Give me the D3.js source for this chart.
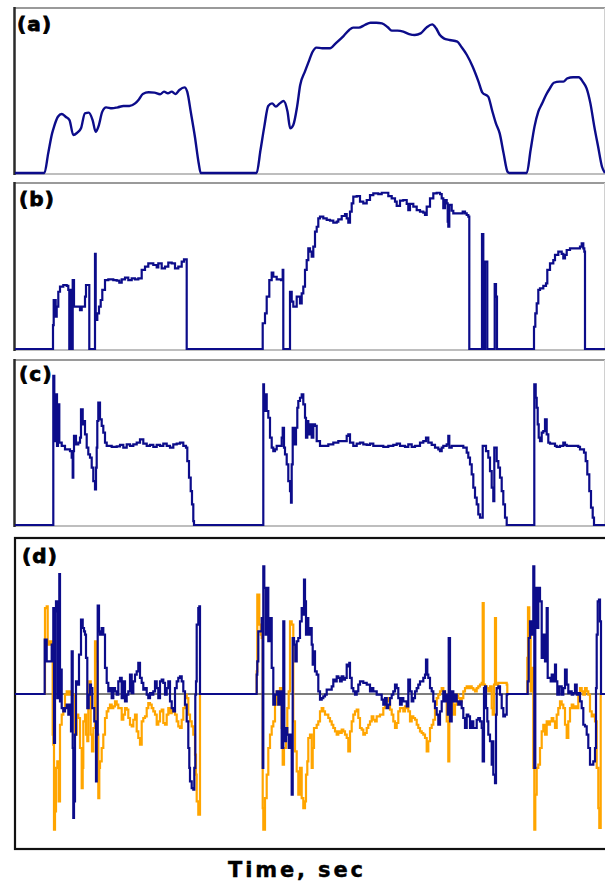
<!DOCTYPE html>
<html><head><meta charset="utf-8">
<script src="https://cdn.jsdelivr.net/npm/d3@7"></script>
<style>body{margin:0;background:#fff}svg{display:block}</style>
</head><body>
<svg id="chart" width="605" height="885"></svg>
<script>
// ---- DATA (time in arbitrary sample units, values normalised) ----
const panelLabels = ["(a)", "(b)", "(c)", "(d)"];
const xAxisLabel = "Time, sec";
const timeDomain = [0, 590];

// (a) smooth signal, 0..100
const seriesA = [[0,0],[29.4,0],[33.2,11.9],[37.1,24],[39,28],[42.9,34.1],[46.7,35.8],[50.6,34.1],[54.5,32.1],[58.3,23],[62.2,24.4],[66,27.1],[69.9,36.2],[73.8,36.6],[77.6,32.1],[80.7,25],[83.4,28.1],[87.3,37.2],[91.1,39.8],[96.9,39.2],[102.7,39.8],[108.5,40.6],[114.3,40.6],[120.1,42.2],[123.9,44.6],[127.8,47.9],[133.6,48.9],[139.4,48.7],[145.1,47.7],[149,49.3],[152.9,48.3],[156.7,49.3],[160.6,47.9],[164.4,50.3],[169.5,51.9],[172.2,49.3],[176,36.2],[179.9,22],[183.7,5.9],[185.7,0],[241.6,0],[245.5,13.9],[249.3,28.1],[253.2,40.6],[257.1,42.2],[260.9,40.2],[264.8,42.2],[268.6,43.6],[272.5,37.2],[275.2,27.1],[278.3,29.1],[282.1,40.2],[285.2,53.3],[289.9,61.4],[293.7,67.5],[297.6,73.5],[301.4,76],[307.2,75.6],[315,75.6],[320.7,78.6],[328.5,83],[334.2,86.7],[338.1,88.1],[343.9,88.1],[349.7,89.7],[355.5,91.1],[361.3,91.1],[367,90.7],[372.8,88.3],[376.7,86.3],[382.5,86.3],[388.3,85.7],[394.1,84.2],[399.8,83.6],[405.6,84.6],[411.4,88.1],[417.2,90.1],[421.1,87.7],[424.9,83.6],[428.8,81.6],[434.6,80.6],[442.3,79.6],[446.2,76.6],[451.9,71.5],[457.7,64.4],[463.5,55.4],[467.4,48.7],[473.2,46.3],[477,38.2],[480.9,30.1],[484.7,24],[488.6,11.9],[492.5,0.8],[494.4,0],[511.8,0],[515.6,13.9],[519.5,28.1],[523.3,37.2],[527.2,42.2],[531,47.3],[534.9,51.3],[538.8,54.7],[544.6,55.4],[548.4,55.4],[552.3,57.4],[558.1,58],[563.8,58],[567.7,55.4],[571.6,51.3],[575.4,42.2],[579.3,28.1],[583.1,16],[587,3.8],[590,0]];

// (b) stepped signal with dropouts, 0..100
const seriesB = [[0,0],[37.7,0],[38,14.5],[38.7,29.7],[39.3,21.6],[40,29.7],[40.7,19.6],[41.7,25.7],[43.3,34.7],[45,37.8],[48.3,38.8],[51.7,38.2],[53.3,35.8],[54.3,0],[55,0],[55.7,35.8],[56.7,0],[57.7,41.8],[59,25.7],[62.3,25.7],[65,23.6],[66.7,25.7],[68.3,25.7],[70,31.7],[71,38.8],[73.3,38.8],[74.3,0],[79.7,0],[80,57.6],[80.7,17.6],[82.3,21.6],[84,25.7],[85.7,29.7],[87.3,35.8],[90,41.8],[93.3,42.2],[98.3,41.8],[101.7,41.4],[104.3,40.2],[106.7,42.2],[110,43.2],[113.3,41.8],[116.7,42.8],[120,42.2],[123.3,42.8],[126.7,47.9],[130,49.9],[133.3,51.9],[138.3,50.9],[141.7,49.5],[143.3,51.9],[146.7,48.9],[150,49.9],[153.3,52.3],[156.7,51.9],[160,48.9],[163.3,49.9],[166.7,52.9],[169,54.3],[171,54.3],[171.7,0],[247.3,0],[247.7,15.6],[250,21.6],[251.7,31.7],[254.3,41.8],[256.7,46.3],[258.3,43.8],[261.7,42.2],[266,41.8],[267.7,47.9],[268.3,0],[274.7,0],[275,34.7],[276.7,28.7],[278.3,25.7],[281.7,31.7],[285,27.7],[286.7,33.7],[288.3,37.8],[290,47.9],[291.7,53.9],[293.3,61],[295,59],[296.7,56],[298.3,62],[300,71.1],[301.7,74.1],[303.3,79.2],[305,80.2],[308.3,79.2],[311.7,78.2],[315,77.8],[318.3,76.6],[321.7,77.2],[323.3,78.6],[326.7,80.6],[330,81.8],[331.7,79.2],[333.3,76.6],[335,83.2],[336.7,88.3],[338.3,92.3],[341.7,92.7],[345,89.3],[348.3,88.3],[351.7,90.3],[355,93.3],[358.3,94.3],[363.3,93.9],[366.7,94.7],[370,94.7],[373.3,92.7],[376.7,91.3],[380,89.3],[381.7,86.7],[385,89.9],[388.3,90.3],[391.7,87.9],[393.3,84.2],[395,87.9],[398.3,86.3],[401.7,84.2],[405,83.2],[408.3,82.6],[410,81.2],[411.7,86.3],[415,91.3],[418.3,94.3],[421.7,94.7],[425,93.9],[426.7,91.3],[428.3,85.3],[430,90.3],[431.7,88.3],[432.7,77.2],[433.3,74.1],[434.3,87.3],[436.7,83.8],[438.3,82.2],[445,82.2],[447.7,83.2],[450,82.2],[451.7,81.2],[453.3,80.2],[454.3,0],[466.7,0],[467,69.7],[468,69.7],[468.3,0],[469.7,0],[470,52.9],[471.7,52.9],[472.3,0],[479.3,0],[479.7,39.4],[481,31.7],[482,0],[518.3,0],[519,13.5],[520.3,21.6],[521.7,27.7],[523.3,35.8],[525,36.8],[528.3,38.2],[531,39.8],[532.3,47.9],[535,51.9],[538.3,53.9],[540,57],[543.3,59],[546.7,57.6],[548.3,54.9],[550,57],[551.7,60],[555,61],[561.7,61],[565,62],[566.7,64],[568.3,61],[569.3,59],[570,0],[590,0]];

// (c) 0..100
const seriesC = [[0,0],[37.7,0],[38.3,90.9],[39.3,79.7],[40.3,51.2],[41,79.7],[42,48.2],[43,73.6],[44.3,50.2],[46.7,48.2],[50,46.1],[53.3,46.1],[55,45.1],[56.7,41.1],[57.7,28.9],[58.3,45.1],[59,54.3],[61,49.2],[63.3,50.2],[65,53.3],[66,70.5],[67.7,61.4],[69,63.4],[70,55.3],[71.7,47.2],[73.3,43.1],[75,41.1],[76.7,35],[78.3,26.8],[80,21.7],[81,35],[81.7,47.2],[82.3,63.4],[83.3,74.6],[85,64.4],[86.7,60.4],[88.3,56.3],[90,50.2],[91.7,48.2],[96.7,47.6],[101.7,48],[105,48.8],[108.3,47.2],[111.7,49.2],[115,48.2],[118.3,49.2],[121.7,50.2],[125,52.2],[128.3,49.6],[131.7,48.2],[135,48.8],[138.3,47.6],[141.7,48.8],[145,48.2],[148.3,49.6],[151.7,48.2],[155,47.2],[158.3,49.2],[161.7,49.6],[165,50.2],[168.3,48.2],[171,47.2],[172.3,39],[174,28.9],[175.7,20.7],[177,12.6],[178.3,2.4],[179,0],[247.7,0],[248.3,85.8],[249,79.7],[250,69.5],[251,79.7],[251.7,69.5],[253.3,65.4],[255,53.3],[256.7,47.2],[258.3,45.1],[260,46.1],[261.7,48.2],[265,48.2],[266.7,53.3],[267.7,59.3],[269,47.2],[270,43.1],[271.7,37],[273.3,26.8],[275,20.7],[276,13.6],[276.7,37],[277.7,59.3],[279,49.2],[281,59.3],[282.3,71.5],[283.3,75.6],[285,77.6],[286.7,79.7],[288.3,73.6],[290,65.4],[291,53.3],[292.3,63.4],[293.3,55.3],[295,61.4],[296.7,53.3],[298.3,61.4],[300,60.4],[301.7,51.2],[305,48.2],[308.3,48.2],[313.3,49.2],[318.3,50.2],[323.3,51.2],[328.3,51.2],[331.7,54.3],[333.3,55.3],[335,50.2],[338.3,48.2],[341.7,49.6],[345,50.2],[348.3,49.2],[351.7,48.8],[355,49.6],[358.3,48.2],[363.3,48.2],[368.3,47.6],[373.3,48.2],[378.3,48.8],[381.7,49.6],[385,48.2],[390,47.6],[393.3,49.2],[396.7,47.6],[400,48.2],[405,50.2],[408.3,51.2],[411,53.3],[413.3,50.2],[416.7,48.8],[420,47.2],[423.3,46.1],[425,45.1],[426.7,47.2],[428.3,48.2],[431.7,49.2],[433.3,54.3],[434.3,47.2],[436.7,48.2],[440,48.2],[445,48.2],[448.3,47.2],[451.7,44.1],[453.3,41.1],[455,37],[456.7,30.9],[458.3,22.8],[460,16.7],[461.7,12.6],[463.3,6.5],[465,4.5],[466.7,4.5],[467.7,48.2],[469,48.2],[471,45.1],[473.3,41.1],[475,32.9],[476.7,22.8],[478.3,14.6],[479.3,47.2],[480.7,47.2],[481.7,39],[483.3,35],[485,28.9],[486.7,20.7],[488.3,12.6],[490,4.5],[491.7,0],[519,0],[519.3,85.8],[520.7,77.6],[521.7,71.5],[522.7,61.4],[523.7,53.3],[525,51.2],[526.7,56.3],[528.3,57.3],[530,64.4],[531.7,55.3],[533.3,50.2],[535,49.6],[538.3,49.6],[540,48.2],[541.7,47.6],[545,48.2],[548.3,50.2],[550,48.8],[551.7,48.2],[555,48.2],[560,48.2],[563.3,47.6],[565,46.1],[567.7,46.1],[569,44.1],[570.7,39],[572.3,30.9],[574.3,20.7],[576,10.6],[577.7,4.5],[579,0],[590,0]];

// (d) blue series, -100..100
const seriesDBlue = [[0,0],[29.3,0],[29.7,34.8],[31,34.8],[31.7,20.9],[35,20.9],[36.7,31.6],[37.7,20.9],[38.3,55.1],[39,-31.4],[40,53],[41,59.4],[42.3,-2.6],[43.3,38],[44.3,76.9],[45,-4.7],[46,15.6],[46.7,-9],[48.3,-11.1],[50,-9],[51.7,-6.8],[53.3,-13.2],[55,-6.8],[56,-23.9],[56.7,27.4],[57.7,-34.6],[58.3,-79.5],[59,-68.8],[60,-26.1],[61,8.1],[62.3,6],[64,25.2],[66,47.7],[67.7,42.3],[69,40.2],[70,38],[71,23.1],[72.3,-9],[73.7,-0.4],[75,6],[76,3.8],[77.3,-9],[79.3,-17.5],[81,-56],[81.7,-26.1],[82.7,56.6],[84,40.2],[85,38],[86.7,42.3],[88.3,38],[90,16.7],[91.7,7.1],[93.3,1.7],[95,3.8],[96.7,-2.6],[98.3,3.8],[100,1.7],[101.7,-0.4],[103.3,8.1],[105,10.3],[106.7,-2.6],[108.3,8.1],[110,-4.7],[111.7,-0.4],[113.3,1.7],[115,12.4],[116.7,0.6],[118.3,8.1],[120,12.4],[121.7,14.5],[123.3,19.9],[125,10.3],[126.7,7.1],[128.3,2.8],[130,3.8],[131.7,-0.4],[133.3,-2.6],[135,0.6],[136.7,-0.4],[138.3,1.7],[140,8.1],[141.7,3.8],[143.3,-2.6],[145,8.1],[146.7,9.2],[148.3,7.1],[150,-0.4],[151.7,3.8],[153.3,8.1],[155,-4.7],[156.7,-9],[158.3,-11.1],[160,3.8],[161.7,8.1],[163.3,10.3],[165,11.3],[166.7,8.1],[168.3,1.7],[170,-6.8],[171.7,-17.5],[173.3,-34.6],[174.3,-47.4],[175,-56],[176.7,-60.3],[178.3,-61.3],[179.3,-47.4],[180.3,-0.4],[181,8.1],[181.7,44.5],[183.3,55.1],[184.3,56.2],[185,0],[241,0],[241.7,12.4],[242.3,20.9],[243.3,40.2],[245,40.2],[246.7,48.7],[247.7,-47.4],[248.3,81.8],[249.3,68],[250.7,38],[251.7,68],[253.3,33.8],[255,48.7],[256.7,16.7],[258.3,-6.8],[260,-0.4],[261.7,1.7],[263.3,-6.8],[265,1.7],[266.7,-34.6],[268.3,46.6],[269.3,-30.3],[271,-21.8],[272.3,-26.1],[273.7,-34.6],[275,-26.1],[276.7,-64.5],[277.7,35.9],[279,31.6],[280.3,20.9],[281.7,33.8],[283.3,35.9],[285,46.6],[286.7,55.1],[288.3,50.9],[289,73.3],[290,59.4],[291,38],[292.3,48.7],[293.3,38],[295,42.3],[296.7,31.6],[297.7,18.8],[299,27.4],[300,14.5],[301.7,12.4],[303.3,1.7],[305,-3.6],[306.7,-2.6],[308.3,-1.5],[310,-0.4],[311.7,2.8],[315,2.8],[316.7,4.9],[318.3,9.2],[320,8.1],[321.7,11.3],[323.3,10.3],[325,8.1],[326.7,11.3],[328.3,9.2],[330,10.3],[331.7,18.8],[333.3,17.7],[334.3,19.9],[335,10.3],[336.7,3.8],[338.3,1.7],[340,-0.4],[341.7,1.7],[343.3,6],[345,8.1],[348.3,7.1],[351.7,6],[355,1.7],[356.7,3.8],[358.3,1.7],[361.7,-0.4],[365,-0.4],[366.7,-3.6],[368.3,-6.8],[370,-2.6],[371.7,-9],[373.3,-6.8],[375,-2.6],[376.7,-0.4],[378.3,1.7],[380,6],[381.7,3.8],[383.3,-2.6],[385,-6.8],[386.7,-2.6],[388.3,-4.7],[391.7,-7.9],[393.3,9.2],[395,1.7],[396.7,-4.7],[398.3,-2.6],[400,1.7],[401.7,3.8],[403.3,6],[405,8.1],[408.3,10.3],[410,12.4],[411,22],[412.3,12.4],[413.3,10.3],[415,3.8],[416.7,1.7],[418.3,-4.7],[420,-9],[421.7,-13.2],[423.3,-19.7],[425,-11.1],[426.7,-4.7],[428.3,1.7],[430,-4.7],[431.7,-0.4],[432.7,-13.2],[433.7,35.9],[435,-17.5],[436.7,1.7],[438.3,-4.7],[440,-0.4],[441.7,-4.7],[443.3,-6.8],[445,-4.7],[446.7,-9],[448.3,-15.4],[450,-21.8],[451.7,-13.2],[453.3,-14.3],[455,-21.8],[456.7,-17.5],[458.3,-21.8],[461.7,-16.5],[463.3,-15.4],[465,-17.5],[466.7,-21.8],[467.7,-43.2],[469,3.8],[470,4.9],[471,-9],[472.3,-17.5],[473.3,-26.1],[475,-30.3],[476.7,-45.3],[477.7,-30.3],[478.3,-51.7],[480,-57.1],[481,-13.2],[481.7,3.8],[483.3,4.9],[485,-0.4],[486.7,-9],[488.3,-14.3],[490,-13.2],[491.7,-0.4],[492.3,0],[511.7,0],[512.7,8.1],[513.7,35.9],[515,46.6],[516.7,38],[518.3,81.8],[519.3,-47.4],[520.3,68],[521.7,42.3],[523.3,68],[525,59.4],[526.7,23.1],[528.3,38],[530,20.9],[531.7,55.1],[532.7,10.3],[535.7,8.1],[536.7,12.4],[538.3,8.1],[540,18.8],[541,8.1],[542.3,-0.4],[544.3,4.9],[546.7,-0.4],[548.3,3.8],[550,15.6],[551.7,6],[553.3,0.6],[555,1.7],[556.7,-0.4],[558.3,0.6],[560,6],[561.7,-0.4],[563.3,0.6],[565,-4.7],[566.7,-9],[568.3,-19.7],[570,-20.7],[571.7,-26.1],[573.3,-34.6],[575,-45.3],[578.3,-43.2],[580,-34.6],[581,3.8],[581.7,38],[582.7,59.4],[584,60.5],[585,46.6],[586,0],[590,0]];

// (d) orange series, -100..100
const seriesDOrange = [[0,0],[29.3,0],[30,55.1],[31.7,56.2],[32.7,31.6],[34.3,33.8],[35.7,31.6],[36.7,33.8],[37.7,-26.1],[38.3,-32.5],[39,-87],[40,-75.2],[41,-47.4],[42.3,-43.2],[43.7,-68.8],[45,-19.7],[46.7,-13.2],[48.3,-9],[50,-0.4],[51.7,1.7],[53.3,-0.4],[55,1.7],[56.7,-0.4],[60,-26.1],[61.7,-13.2],[63.3,-15.4],[65,-34.6],[66.7,-60.3],[67.7,-47.4],[68.3,-17.5],[70,-13.2],[71,-26.1],[72.3,-30.3],[73.3,-0.4],[74.3,8.1],[75.7,-26.1],[77,-36.8],[78.3,-21.8],[80,33.8],[81,20.9],[82.3,-26.1],[83.3,-66.7],[84.3,-47.4],[85,-43.2],[86.7,-34.6],[88.3,-26.1],[90,-15.4],[91.7,-11.1],[93.3,-9],[95,-6.8],[96.7,-9],[98.3,-7.9],[100,-4.7],[101.7,-6.8],[103.3,-9],[106.7,-16.5],[108.3,-13.2],[110,-9],[111.7,-10],[113.3,-15.4],[115,-19.7],[116.7,-20.7],[118.3,-16.5],[120,-13.2],[121.7,-23.9],[123.3,-28.2],[125,-32.5],[126.7,-17.5],[128.3,-15.4],[130,-14.3],[131.7,-9],[133.3,-5.8],[135,-6.8],[136.7,-9],[138.3,-11.1],[140,-13.2],[141.7,-19.7],[143.3,-17.5],[145,-11.1],[146.7,-10],[148.3,-18.6],[150,-19.7],[151.7,-13.2],[153.3,-9],[155,-12.2],[156.7,-10],[158.3,-11.1],[160,-13.2],[161.7,-17.5],[163.3,-20.7],[165,-21.8],[166.7,-16.5],[168.3,-9],[170,-0.4],[171.7,-2.6],[173.3,-13.2],[175,-17.5],[176.7,-20.7],[178.3,-26.1],[180,-38.9],[181,-51.7],[181.7,-68.8],[183.3,-77.4],[184.3,-77.4],[185,0],[241,0],[241.7,14.5],[242.3,63.7],[243.3,63.7],[244.3,44.5],[245.7,38],[246.7,35.9],[247.7,-73.1],[248.3,-87],[250,-66.7],[251.7,-51.7],[253.3,-34.6],[255,-26.1],[256.7,-20.7],[258.3,-17.5],[260,-6.8],[261.7,1.7],[265,3.8],[266.7,-21.8],[267.7,-45.3],[269,-34.6],[271,-26.1],[272.3,-9],[273.7,1.7],[275,46.6],[276.7,44.5],[278.3,-17.5],[280,-36.8],[281.7,-49.6],[283.3,-64.5],[285,-47.4],[286.7,-66.7],[288.3,-73.1],[290,-68.8],[291,-51.7],[292.3,-43.2],[293.3,-28.2],[295,-26.1],[296.7,-47.4],[297.7,-34.6],[299,-21.8],[301.7,-19.7],[303.3,-17.5],[305,-11.1],[306.7,-9],[308.3,-11.1],[310,-13.2],[313.3,-15.4],[315,-17.5],[316.7,-19.7],[318.3,-21.8],[320,-23.9],[321.7,-26.1],[323.3,-23.9],[325,-25],[326.7,-22.9],[328.3,-23.9],[330,-26.1],[331.7,-28.2],[333.3,-36.8],[335,-23.9],[336.7,-17.5],[338.3,-13.2],[340,-11.1],[341.7,-10],[343.3,-15.4],[345,-21.8],[346.7,-22.9],[348.3,-26.1],[350,-25],[351.7,-21.8],[353.3,-19.7],[355,-17.5],[356.7,-14.3],[358.3,-16.5],[360,-17.5],[361.7,-14.3],[365,-13.2],[368.3,-9],[370,-4.7],[373.3,-2.6],[375,-10],[376.7,-13.2],[378.3,-17.5],[380,-21.8],[381.7,-18.6],[383.3,-11.1],[385,-9],[388.3,-11.1],[390,-7.9],[391.7,-9],[393.3,-11.1],[395,-17.5],[396.7,-14.3],[398.3,-15.4],[400,-16.5],[401.7,-19.7],[403.3,-21.8],[405,-23.9],[406.7,-25],[408.3,-26.1],[410,-28.2],[411.7,-36.8],[413.3,-30.3],[415,-21.8],[416.7,-19.7],[418.3,-16.5],[420,-6.8],[421.7,-2.6],[423.3,-0.4],[425,1.7],[426.7,3.8],[428.3,1.7],[430,-0.4],[431.7,-17.5],[433.3,-43.2],[434.3,-13.2],[435.7,-0.4],[436.7,-4.7],[438.3,-13.2],[440,-6.8],[441.7,-0.4],[443.3,-2.6],[445,-4.7],[446.7,-2.6],[448.3,1.7],[450,3.8],[451.7,4.9],[453.3,3.8],[455,4.9],[456.7,3.8],[458.3,2.8],[460,1.7],[461.7,3.8],[463.3,4.9],[465,6],[466.7,7.1],[467.7,58.3],[468.7,6],[470,4.9],[471.7,3.8],[473.3,1.7],[475,4.9],[476.7,-9],[477.7,-13.2],[479,6],[480,48.7],[481,6],[483.3,7.1],[491.7,6],[492.3,0],[511.7,0],[512.3,23.1],[513,55.6],[514.3,38],[515.7,1.7],[516.7,16.7],[518.3,-47.4],[519.3,-87],[520.3,-64.5],[521.7,-47.4],[523.3,-45.3],[525,-34.6],[526.7,-23.9],[528.3,-19.7],[530,-26.1],[531.7,-17.5],[533.3,-19.7],[535,-17.5],[536.7,-15.4],[538.3,-17.5],[540,-21.8],[541.7,-13.2],[543.3,-9],[545,-4.7],[546.7,-6.8],[548.3,-9],[550,-19.7],[551.7,-28.2],[553.3,-17.5],[555,-9],[556.7,-6.8],[558.3,-9],[560,-7.9],[561.7,-9],[563.3,-0.4],[565,3.8],[566.7,1.7],[568.3,-0.4],[570,3.8],[571.7,1.7],[573.3,-0.4],[575,-11.1],[576.7,-14.3],[578.3,-13.2],[580,-17.5],[581.7,-47.4],[583.3,-73.1],[584.3,-85.9],[585.7,0],[590,0]];

// ---- DRAWING ----
const svg = d3.select("#chart");
const NAVY = "#0c0c8a", ORANGE = "#ffa500";
const x = d3.scaleLinear().domain(timeDomain).range([15, 605]);

const panels = [
  {label: panelLabels[0], top: 8,   bottom: 174, domain: [0,100], rng: [173, 8],   lx: 17, ly: 31},
  {label: panelLabels[1], top: 183, bottom: 350, domain: [0,100], rng: [349, 184], lx: 19, ly: 206},
  {label: panelLabels[2], top: 360, bottom: 526, domain: [0,100], rng: [525, 361], lx: 19, ly: 381},
  {label: panelLabels[3], top: 538, bottom: 849, domain: [-100,100], rng: [850, 538], lx: 22, ly: 563}
];
panels.forEach(p => p.y = d3.scaleLinear().domain(p.domain).range(p.rng));

// frames for a-c
panels.slice(0,3).forEach(p => {
  const g = svg.append("g");
  g.append("line").attr("x1",14).attr("x2",605).attr("y1",p.top).attr("y2",p.top)
    .attr("stroke","#9a9a9a").attr("stroke-width",2);
  g.append("line").attr("x1",14).attr("x2",605).attr("y1",p.bottom).attr("y2",p.bottom)
    .attr("stroke","#a8a8a8").attr("stroke-width",1.5);
  g.append("line").attr("x1",604.5).attr("x2",604.5).attr("y1",p.top).attr("y2",p.bottom)
    .attr("stroke","#d0d0d0").attr("stroke-width",1);
  g.append("line").attr("x1",14.5).attr("x2",14.5).attr("y1",p.top-1).attr("y2",p.bottom+1)
    .attr("stroke","#2a2a2a").attr("stroke-width",2.5);
});
// frame d
const pd = panels[3];
svg.append("rect").attr("x",15).attr("y",pd.top).attr("width",592).attr("height",pd.bottom-pd.top)
  .attr("fill","none").attr("stroke","#111").attr("stroke-width",2.2);
svg.append("line").attr("x1",15).attr("x2",605).attr("y1",pd.y(0)).attr("y2",pd.y(0))
  .attr("stroke","#555").attr("stroke-width",1.5);

const lineSmooth = (p) => d3.line().x(d => x(d[0])).y(d => p.y(d[1])).curve(d3.curveMonotoneX);
const lineStep = (p) => d3.line().x(d => x(d[0])).y(d => p.y(d[1])).curve(d3.curveStepAfter);

svg.append("path").datum(seriesA).attr("d", lineSmooth(panels[0]))
  .attr("fill","none").attr("stroke",NAVY).attr("stroke-width",2.4).attr("stroke-linejoin","round");
svg.append("path").datum(seriesB).attr("d", lineStep(panels[1]))
  .attr("fill","none").attr("stroke",NAVY).attr("stroke-width",2.2);
svg.append("path").datum(seriesC).attr("d", lineStep(panels[2]))
  .attr("fill","none").attr("stroke",NAVY).attr("stroke-width",2.2);
svg.append("path").datum(seriesDOrange).attr("d", lineStep(pd))
  .attr("fill","none").attr("stroke",ORANGE).attr("stroke-width",2.2);
svg.append("path").datum(seriesDBlue).attr("d", lineStep(pd))
  .attr("fill","none").attr("stroke",NAVY).attr("stroke-width",2.2);

// panel labels (extra-heavy look via thin stroke)
panels.forEach(p => {
  svg.append("text").attr("x", p.lx).attr("y", p.ly).text(p.label)
    .attr("font-family","DejaVu Sans, sans-serif").attr("font-weight","bold")
    .attr("font-size",20).attr("letter-spacing",1.2).attr("fill","#000")
    .attr("stroke","#000").attr("stroke-width",0.8);
});

// x-axis title
svg.append("text").attr("x", 228).attr("y", 877).text(xAxisLabel)
  .attr("font-family","DejaVu Sans, sans-serif").attr("font-weight","bold")
  .attr("font-size",21).attr("textLength",135).attr("lengthAdjust","spacing").attr("fill","#000")
  .attr("stroke","#000").attr("stroke-width",0.4);
</script>
</body></html>
